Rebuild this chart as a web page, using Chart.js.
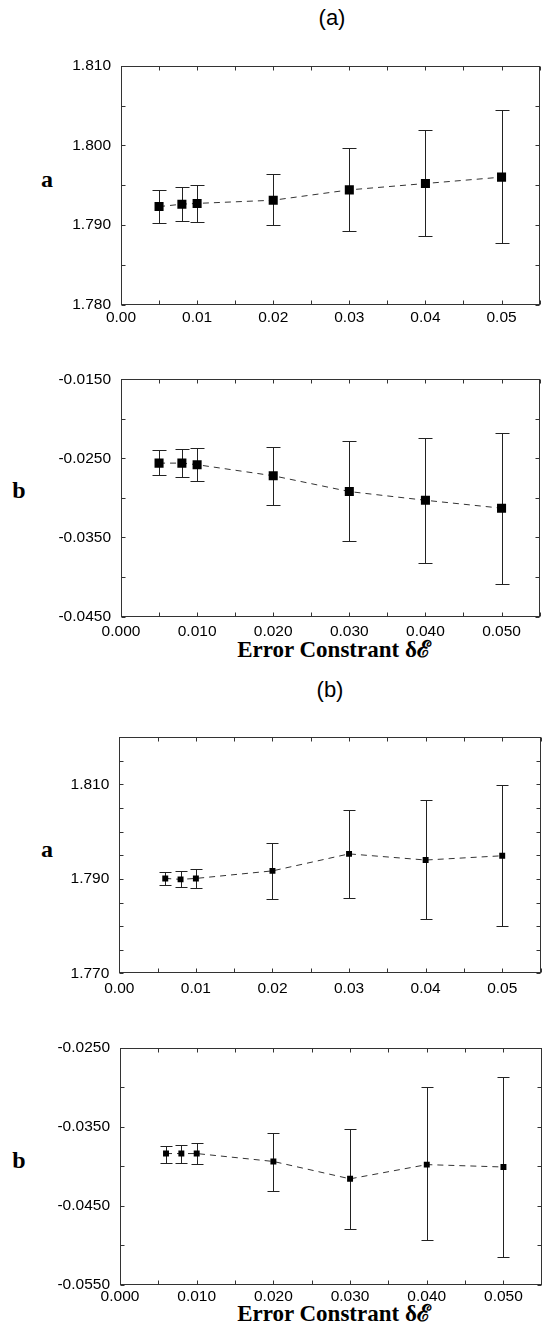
<!DOCTYPE html>
<html>
<head>
<meta charset="utf-8">
<script src="https://cdn.jsdelivr.net/npm/chart.js@4.4.1/dist/chart.umd.min.js"></script>
<style>
  html, body { margin: 0; padding: 0; background: #fff; }
  body { width: 542px; height: 1324px; overflow: hidden; position: relative; }
  canvas { position: absolute; left: 0; }
  .t { position: absolute; transform: translate(-50%, -50%); white-space: nowrap; color: #000; }
  .panel { font-family: "Liberation Sans", Arial, sans-serif; font-size: 22px; }
  .var { font-family: "Liberation Serif", "Times New Roman", serif; font-weight: bold; font-size: 24px; }
  .xt { font-family: "Liberation Serif", "Times New Roman", serif; font-weight: bold; font-size: 23px; }
</style>
</head>
<body>
<div class="t panel" style="left:332px;top:18px">(a)</div>
<div class="t var" style="left:47px;top:179px">a</div>
<div class="t var" style="left:19px;top:490px">b</div>
<div class="t xt" style="left:334px;top:648px">Error Constrant δℰ</div>
<div class="t panel" style="left:330px;top:690px">(b)</div>
<div class="t var" style="left:47px;top:849px">a</div>
<div class="t var" style="left:19px;top:1160px">b</div>
<div class="t xt" style="left:334px;top:1312px">Error Constrant δℰ</div>

<canvas id="c1"></canvas>
<canvas id="c2"></canvas>
<canvas id="c3"></canvas>
<canvas id="c4"></canvas>

<script>
// ---------------- data ----------------
const xA = [0.005, 0.008, 0.010, 0.020, 0.030, 0.040, 0.050];
const aA   = [1.7923, 1.7926, 1.7927, 1.7931, 1.7944, 1.7952, 1.7960];
const aALo = [1.7903, 1.7905, 1.7904, 1.7900, 1.7892, 1.7886, 1.7877];
const aAHi = [1.7944, 1.7947, 1.7950, 1.7964, 1.7996, 1.8019, 1.8044];
const bA   = [-0.0256, -0.0256, -0.0258, -0.0272, -0.0292, -0.0303, -0.0313];
const bALo = [-0.0271, -0.0274, -0.0278, -0.0309, -0.0355, -0.0382, -0.0409];
const bAHi = [-0.0240, -0.0238, -0.0237, -0.0236, -0.0228, -0.0224, -0.0218];

const xB = [0.006, 0.008, 0.010, 0.020, 0.030, 0.040, 0.050];
const aB   = [1.7901, 1.7899, 1.7901, 1.7917, 1.7953, 1.7940, 1.7949];
const aBLo = [1.7887, 1.7882, 1.7881, 1.7858, 1.7860, 1.7814, 1.7800];
const aBHi = [1.7914, 1.7916, 1.7920, 1.7975, 1.8045, 1.8067, 1.8099];
const bB   = [-0.0384, -0.0384, -0.0384, -0.0394, -0.0416, -0.0398, -0.0401];
const bBLo = [-0.0396, -0.0396, -0.0397, -0.0431, -0.0479, -0.0494, -0.0515];
const bBHi = [-0.0374, -0.0373, -0.0371, -0.0358, -0.0353, -0.0300, -0.0287];

// tick values and labels
const xTickValues = [0, 0.01, 0.02, 0.03, 0.04, 0.05];
const xTickLabels2 = ['0.00', '0.01', '0.02', '0.03', '0.04', '0.05'];
const xTickLabels3 = ['0.000', '0.010', '0.020', '0.030', '0.040', '0.050'];
const yTicksA1 = [1.780, 1.790, 1.800, 1.810];
const yLabelsA1 = ['1.780', '1.790', '1.800', '1.810'];
const yTicksB1 = [-0.045, -0.035, -0.025, -0.015];
const yLabelsB1 = ['-0.0450', '-0.0350', '-0.0250', '-0.0150'];
const yTicksA2 = [1.770, 1.790, 1.810];
const yLabelsA2 = ['1.770', '1.790', '1.810'];
const yTicksB2 = [-0.055, -0.045, -0.035, -0.025];
const yLabelsB2 = ['-0.0550', '-0.0450', '-0.0350', '-0.0250'];

// ---------------- plugins ----------------
const FRAME = '#333';
const framePlugin = {
  id: 'frameTicks',
  afterDraw(chart, args, opts) {
    const { ctx, chartArea } = chart;
    const x = chart.scales.x, y = chart.scales.y;
    const L = Math.round(chartArea.left) + 0.5, R = Math.round(chartArea.right) - 0.5;
    const T = Math.round(chartArea.top) + 0.5, B = Math.round(chartArea.bottom) - 0.5;
    ctx.save();
    ctx.strokeStyle = FRAME;
    ctx.lineWidth = 1;
    ctx.strokeRect(L, T, R - L, B - T);
    const len = 4;
    ctx.beginPath();
    const ms = opts.minorStep;
    const nx = Math.round((x.max - x.min) / ms);
    for (let k = 0; k <= nx; k++) {
      const px = Math.round(x.getPixelForValue(x.min + k * ms)) + 0.5;
      ctx.moveTo(px, B); ctx.lineTo(px, B - len);
      ctx.moveTo(px, T); ctx.lineTo(px, T + len);
    }
    const ny = Math.round((y.max - y.min) / ms);
    for (let k = 0; k <= ny; k++) {
      const py = Math.round(y.getPixelForValue(y.min + k * ms)) + 0.5;
      ctx.moveTo(L, py); ctx.lineTo(L + len, py);
      ctx.moveTo(R, py); ctx.lineTo(R - len, py);
    }
    ctx.stroke();
    ctx.restore();
  }
};

const errPlugin = {
  id: 'errBars',
  beforeDatasetsDraw(chart, args, opts) {
    const { ctx } = chart;
    const x = chart.scales.x, y = chart.scales.y;
    ctx.save();
    ctx.strokeStyle = '#222';
    ctx.lineWidth = 1;
    ctx.beginPath();
    opts.xs.forEach((xv, i) => {
      const px = Math.round(x.getPixelForValue(xv)) + 0.5;
      const p1 = Math.round(y.getPixelForValue(opts.lo[i])) + 0.5;
      const p2 = Math.round(y.getPixelForValue(opts.hi[i])) + 0.5;
      ctx.moveTo(px, p1); ctx.lineTo(px, p2);
      ctx.moveTo(px - opts.cap, p1); ctx.lineTo(px + opts.cap, p1);
      ctx.moveTo(px - opts.cap, p2); ctx.lineTo(px + opts.cap, p2);
    });
    ctx.stroke();
    ctx.restore();
  }
};

const CW = 546;
function makePanel(id, cfg) {
  const cv = document.getElementById(id);
  cv.style.top = cfg.top + 'px';
  cv.width = CW; cv.height = cfg.height;
  cv.style.width = CW + 'px'; cv.style.height = cfg.height + 'px';
  const tickFont = { family: '"Liberation Sans", Arial, sans-serif', size: 15.5 };
  new Chart(cv, {
    type: 'scatter',
    data: {
      datasets: [{
        data: cfg.xs.map((xv, i) => ({ x: xv, y: cfg.ys[i] })),
        showLine: true,
        borderColor: '#333',
        borderWidth: 1,
        borderDash: [6, 5],
        pointStyle: 'rect',
        pointRadius: cfg.radius,
        pointHoverRadius: cfg.radius,
        pointBackgroundColor: '#000',
        pointBorderColor: '#000',
        pointBorderWidth: 0,
        tension: 0
      }]
    },
    options: {
      responsive: false,
      animation: false,
      events: [],
      layout: { padding: { left: 0, top: cfg.areaTop - cfg.top, right: CW - cfg.areaRight, bottom: 0 } },
      plugins: {
        legend: { display: false },
        tooltip: { enabled: false },
        frameTicks: { minorStep: 0.005 },
        errBars: { xs: cfg.xs, lo: cfg.lo, hi: cfg.hi, cap: cfg.cap }
      },
      scales: {
        x: {
          type: 'linear', position: 'bottom', min: 0, max: 0.055,
          grid: { display: false, drawTicks: false },
          border: { display: false },
          afterBuildTicks: s => { s.ticks = xTickValues.map(v => ({ value: v })); },
          afterFit: s => { s.height = cfg.height - (cfg.areaBottom - cfg.top); },
          ticks: {
            autoSkip: false, maxRotation: 0, padding: cfg.xPad, color: '#000', font: tickFont,
            callback: (v, i) => cfg.xLabels[i]
          }
        },
        y: {
          type: 'linear', min: cfg.yMin, max: cfg.yMax,
          grid: { display: false, drawTicks: false },
          border: { display: false },
          afterBuildTicks: s => { s.ticks = cfg.yTicks.map(v => ({ value: v })); },
          afterFit: s => { s.width = cfg.areaLeft; },
          ticks: {
            autoSkip: false, padding: 10, color: '#000', font: tickFont,
            callback: (v, i) => cfg.yLabels[i]
          }
        }
      }
    },
    plugins: [errPlugin, framePlugin]
  });
}

makePanel('c1', { top: 40, height: 300, areaTop: 65.7, areaBottom: 304.5, areaLeft: 121, areaRight: 543.4,
  xs: xA, ys: aA, lo: aALo, hi: aAHi, yMin: 1.780, yMax: 1.810, yTicks: yTicksA1, yLabels: yLabelsA1,
  xLabels: xTickLabels2, radius: 6.4, cap: 7, xPad: 4 });
makePanel('c2', { top: 355, height: 285, areaTop: 379.3, areaBottom: 616.5, areaLeft: 121, areaRight: 543.4,
  xs: xA, ys: bA, lo: bALo, hi: bAHi, yMin: -0.045, yMax: -0.015, yTicks: yTicksB1, yLabels: yLabelsB1,
  xLabels: xTickLabels3, radius: 6.4, cap: 7, xPad: 6 });
makePanel('c3', { top: 715, height: 290, areaTop: 737.3, areaBottom: 973.3, areaLeft: 119.3, areaRight: 540.5,
  xs: xB, ys: aB, lo: aBLo, hi: aBHi, yMin: 1.770, yMax: 1.820, yTicks: yTicksA2, yLabels: yLabelsA2,
  xLabels: xTickLabels2, radius: 4.2, cap: 6, xPad: 6 });
makePanel('c4', { top: 1025, height: 290, areaTop: 1047.7, areaBottom: 1284.7, areaLeft: 120, areaRight: 542.4,
  xs: xB, ys: bB, lo: bBLo, hi: bBHi, yMin: -0.055, yMax: -0.025, yTicks: yTicksB2, yLabels: yLabelsB2,
  xLabels: xTickLabels3, radius: 4.2, cap: 6, xPad: 3 });
</script>
</body>
</html>
